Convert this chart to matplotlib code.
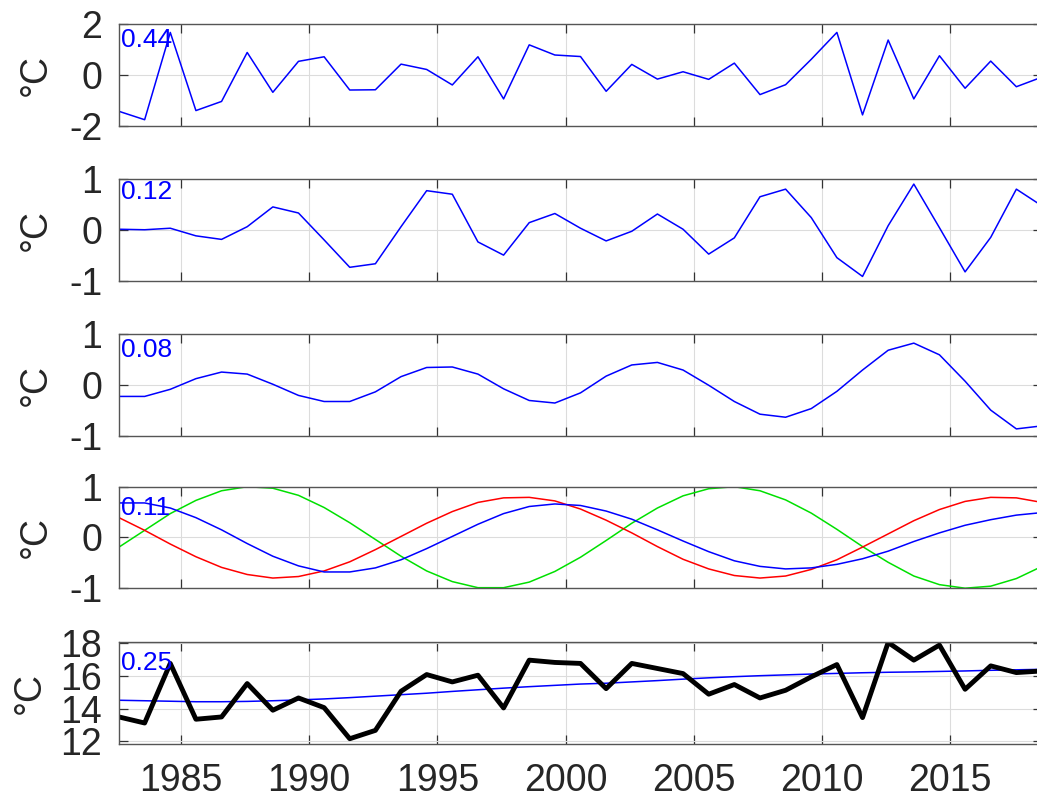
import numpy as np
import matplotlib.pyplot as plt

plt.rcParams['font.family'] = ['Liberation Sans', 'DejaVu Sans']
plt.rcParams['axes.unicode_minus'] = False

# annual samples, mid-year
years = np.arange(1982, 2019) + 7 / 12

# component 1 (interannual)
imf1 = [-1.43, -1.76, 1.68, -1.40, -1.04, 0.89, -0.68, 0.54, 0.72, -0.59,
        -0.58, 0.43, 0.22, -0.39, 0.72, -0.94, 1.19, 0.79, 0.73, -0.64,
        0.42, -0.16, 0.13, -0.17, 0.47, -0.77, -0.38, 0.62, 1.68, -1.57,
        1.38, -0.94, 0.76, -0.52, 0.55, -0.46, -0.08]

# component 2
imf2 = [0.01, 0.00, 0.03, -0.12, -0.19, 0.06, 0.45, 0.33, -0.20, -0.74,
        -0.67, 0.06, 0.77, 0.70, -0.24, -0.50, 0.14, 0.32, 0.03, -0.22,
        -0.03, 0.31, 0.01, -0.48, -0.16, 0.65, 0.80, 0.24, -0.55, -0.92,
        0.08, 0.90, 0.04, -0.83, -0.15, 0.80, 0.47]

# component 3
imf3 = [-0.23, -0.23, -0.09, 0.12, 0.25, 0.21, 0.01, -0.21, -0.33, -0.33,
        -0.14, 0.16, 0.34, 0.35, 0.21, -0.08, -0.31, -0.36, -0.16, 0.17,
        0.39, 0.44, 0.29, -0.01, -0.33, -0.58, -0.64, -0.47, -0.13, 0.29,
        0.68, 0.82, 0.59, 0.07, -0.50, -0.87, -0.81]

# component 4 and the two reference cycles
imf4 = [0.68, 0.68, 0.58, 0.39, 0.15, -0.12, -0.37, -0.56, -0.68, -0.68,
        -0.60, -0.44, -0.22, 0.02, 0.26, 0.47, 0.61, 0.66, 0.63, 0.52,
        0.36, 0.15, -0.07, -0.28, -0.46, -0.57, -0.62, -0.60, -0.53, -0.42,
        -0.27, -0.08, 0.09, 0.24, 0.35, 0.44, 0.49]
cycle_red = [0.39, 0.14, -0.13, -0.38, -0.59, -0.73, -0.80, -0.77, -0.66, -0.48,
             -0.24, 0.02, 0.28, 0.51, 0.69, 0.78, 0.79, 0.72, 0.56, 0.34,
             0.09, -0.18, -0.43, -0.62, -0.75, -0.80, -0.76, -0.63, -0.44, -0.19,
             0.07, 0.33, 0.55, 0.71, 0.79, 0.78, 0.69]
cycle_green = [-0.19, 0.14, 0.47, 0.73, 0.92, 1.00, 0.97, 0.83, 0.59, 0.29,
               -0.04, -0.37, -0.66, -0.87, -0.99, -0.99, -0.88, -0.67, -0.39, -0.06,
               0.28, 0.58, 0.82, 0.96, 1.00, 0.92, 0.74, 0.48, 0.16, -0.18,
               -0.49, -0.76, -0.93, -1.00, -0.96, -0.81, -0.57]

# annual temperature and its residual trend
temp = [13.49, 13.12, 16.76, 13.35, 13.49, 15.53, 13.90, 14.65, 14.06, 12.16,
        12.67, 15.06, 16.08, 15.63, 16.04, 14.04, 16.96, 16.82, 16.76, 15.22,
        16.76, 16.45, 16.14, 14.88, 15.47, 14.65, 15.12, 15.94, 16.69, 13.45,
        18.04, 16.96, 17.88, 15.18, 16.61, 16.20, 16.30]
trend = [14.51, 14.48, 14.45, 14.42, 14.42, 14.44, 14.48, 14.53, 14.59, 14.67,
         14.76, 14.85, 14.94, 15.05, 15.15, 15.25, 15.34, 15.42, 15.50, 15.55,
         15.63, 15.71, 15.80, 15.88, 15.95, 16.01, 16.06, 16.11, 16.15, 16.19,
         16.22, 16.24, 16.27, 16.30, 16.34, 16.37, 16.40]

variance = ['0.44', '0.12', '0.08', '0.11', '0.25']
ylims = [(-2, 2), (-1, 1), (-1, 1), (-1, 1), (11.85, 18.05)]
yticks = [[-2, 0, 2], [-1, 0, 1], [-1, 0, 1], [-1, 0, 1], [12, 14, 16, 18]]
xticks = [1985, 1990, 1995, 2000, 2005, 2010, 2015]

W, H = 1037, 801
left, right = 119, 1042
tops = [24.3, 179.0, 334.0, 486.7, 642.3]
ph = 101.5
text_base = [22.7, 20.0, 23.0, 28.3, 27.7]
label_x = [-0.071, -0.071, -0.071, -0.071, -0.077]

fig = plt.figure(figsize=(W / 100, H / 100), dpi=100)
axes = []
for i, top in enumerate(tops):
    ax = fig.add_axes([left / W, 1 - (top + ph) / H, (right - left) / W, ph / H])
    axes.append(ax)

axes[0].plot(years, imf1, color='#0000ff', lw=1.1)
axes[1].plot(years, imf2, color='#0000ff', lw=1.1)
axes[2].plot(years, imf3, color='#0000ff', lw=1.1)
axes[3].plot(years, cycle_green, color='#00e000', lw=1.1)
axes[3].plot(years, cycle_red, color='#ff0000', lw=1.1)
axes[3].plot(years, imf4, color='#0000ff', lw=1.1)
axes[4].plot(years, trend, color='#0000ff', lw=1.1)
axes[4].plot(years, temp, color='k', lw=3.5)

for i, ax in enumerate(axes):
    ax.set_xlim(years[0], years[-1])
    ax.set_ylim(*ylims[i])
    ax.set_xticks(xticks)
    ax.set_yticks(yticks[i])
    ax.grid(True, color='#dcdcdc', lw=0.8)
    ax.set_axisbelow(True)
    for s in ax.spines.values():
        s.set_color('#555555')
        s.set_linewidth(1.0)
    ax.tick_params(direction='in', length=6.5, width=0.9, color='#333333',
                   top=True, right=True, labelsize=27, labelcolor='#262626')
    ax.tick_params(axis='y', pad=12)
    ax.tick_params(axis='x', pad=14)
    if i < 4:
        ax.tick_params(labelbottom=False)
    ax.set_ylabel('°C', fontsize=27, color='#262626')
    ax.yaxis.set_label_coords(label_x[i], 0.5)
    ax.text(0.002, 1 - text_base[i] / ph, variance[i], transform=ax.transAxes,
            color='#0000ff', fontsize=19, ha='left', va='baseline')

fig.savefig('out.png', dpi=100)
